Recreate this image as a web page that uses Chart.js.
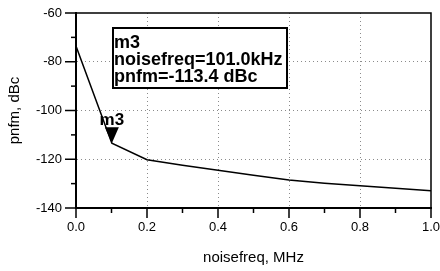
<!DOCTYPE html>
<html>
<head>
<meta charset="utf-8">
<script src="https://cdn.jsdelivr.net/npm/chart.js@4"></script>
<style>
  body { margin: 0; background: #fff; }
  canvas { display: block; }
</style>
</head>
<body>
<canvas id="pn-chart" width="440" height="271"></canvas>
<script>
// data
const noisefreq = [0.001, 0.101, 0.2, 0.3, 0.4, 0.5, 0.6, 0.7, 0.8, 0.9, 1.0];
const pnfm = [-74, -113.4, -120.2, -122.5, -124.5, -126.6, -128.5, -129.8, -130.9, -131.9, -132.9];
const xTicks = ['0.0', '0.2', '0.4', '0.6', '0.8', '1.0'];
const yTicks = [-60, -80, -100, -120, -140];
const markerName = 'm3';
const markerFreq = 0.101;
const markerVal = -113.4;

const FONT = 'Liberation Sans, Arial, sans-serif';

// top/right frame, tick marks, marker and its readout box
const frame = {
    id: 'frame',
    afterDraw(chart) {
        const ctx = chart.ctx;
        const a = chart.chartArea;
        const xs = chart.scales.x;
        const ys = chart.scales.y;
        ctx.save();
        ctx.strokeStyle = '#000';

        ctx.lineWidth = 1.5;
        ctx.beginPath();
        ctx.moveTo(a.left, a.top);
        ctx.lineTo(a.right, a.top);
        ctx.lineTo(a.right, a.bottom);
        ctx.stroke();

        for (let i = 0; i <= 10; i++) {
            const px = xs.getPixelForValue(i / 10);
            const len = i % 2 === 0 ? 10 : 5;
            ctx.beginPath();
            ctx.moveTo(px, a.bottom);
            ctx.lineTo(px, a.bottom + len);
            ctx.stroke();
        }
        for (let v = -140; v <= -60; v += 10) {
            const py = ys.getPixelForValue(v);
            const len = v % 20 === 0 ? 11 : 5;
            ctx.beginPath();
            ctx.moveTo(a.left, py);
            ctx.lineTo(a.left - len, py);
            ctx.stroke();
        }

        // marker triangle, tip on the point
        const mx = xs.getPixelForValue(markerFreq);
        const my = ys.getPixelForValue(markerVal);
        ctx.fillStyle = '#000';
        ctx.beginPath();
        ctx.moveTo(mx, my);
        ctx.lineTo(mx - 7, my - 16);
        ctx.lineTo(mx + 7, my - 16);
        ctx.closePath();
        ctx.fill();
        ctx.font = 'bold 17px ' + FONT;
        ctx.textAlign = 'center';
        ctx.textBaseline = 'alphabetic';
        ctx.fillText(markerName, mx, my - 18);

        // readout box
        const bx = 113, by = 28, bw = 174, bh = 60;
        ctx.lineWidth = 2;
        ctx.fillStyle = '#fff';
        ctx.fillRect(bx, by, bw, bh);
        ctx.strokeRect(bx, by, bw, bh);
        ctx.fillStyle = '#000';
        ctx.textAlign = 'left';
        ctx.font = 'bold 18px ' + FONT;
        const lines = [
            markerName,
            'noisefreq=' + (markerFreq * 1000).toFixed(1) + 'kHz',
            'pnfm=' + markerVal.toFixed(1) + ' dBc'
        ];
        lines.forEach(function(t, i) {
            ctx.fillText(t, bx + 1, by + 20 + i * 17);
        });
        ctx.restore();
    }
};

const gridColor = 'rgba(110,110,110,0.8)';

const pnChart = new Chart(document.getElementById('pn-chart'), {
    type: 'line',
    data: {
        datasets: [{
            data: noisefreq.map(function(f, i) { return { x: f, y: pnfm[i] }; }),
            borderColor: '#000',
            borderWidth: 1.5,
            pointRadius: 0,
            tension: 0,
            fill: false
        }]
    },
    options: {
        responsive: false,
        animation: false,
        layout: { padding: { top: 13, right: 9, left: 0, bottom: 0 } },
        plugins: {
            legend: { display: false },
            tooltip: { enabled: false }
        },
        scales: {
            x: {
                type: 'linear',
                min: 0,
                max: 1,
                afterFit: function(s) {
                    s.height = 63;
                    s.paddingLeft = 0;
                    s.paddingRight = 0;
                },
                border: { display: true, color: '#000', width: 2, dash: [1, 3] },
                grid: {
                    drawTicks: false,
                    color: function(c) {
                        const k = Math.round(c.tick.value * 10);
                        return (k % 2 === 0 && k > 0 && k < 10) ? gridColor : 'rgba(0,0,0,0)';
                    },
                    lineWidth: 1
                },
                ticks: {
                    stepSize: 0.1,
                    padding: 12,
                    color: '#000',
                    font: { family: FONT, size: 13 },
                    maxRotation: 0,
                    autoSkip: false,
                    callback: function(v) {
                        const k = Math.round(v * 10);
                        return k % 2 === 0 ? xTicks[k / 2] : '';
                    }
                },
                title: {
                    display: true,
                    text: 'noisefreq, MHz',
                    color: '#000',
                    font: { family: FONT, size: 15 },
                    padding: { top: 0, bottom: 4 }
                }
            },
            y: {
                min: -140,
                max: -60,
                afterFit: function(s) {
                    s.width = 76;
                    s.paddingTop = 0;
                    s.paddingBottom = 0;
                },
                border: { display: true, color: '#000', width: 2, dash: [1, 3] },
                grid: {
                    drawTicks: false,
                    color: function(c) {
                        const v = c.tick.value;
                        return (yTicks.includes(v) && v > -140 && v < -60) ? gridColor : 'rgba(0,0,0,0)';
                    },
                    lineWidth: 1
                },
                ticks: {
                    stepSize: 10,
                    padding: 14,
                    color: '#000',
                    font: { family: FONT, size: 13 },
                    autoSkip: false,
                    callback: function(v) { return yTicks.includes(v) ? v : ''; }
                },
                title: {
                    display: true,
                    text: 'pnfm, dBc',
                    color: '#000',
                    font: { family: FONT, size: 15 },
                    padding: { top: 6, bottom: 0 }
                }
            }
        }
    },
    plugins: [frame]
});
</script>
</body>
</html>
